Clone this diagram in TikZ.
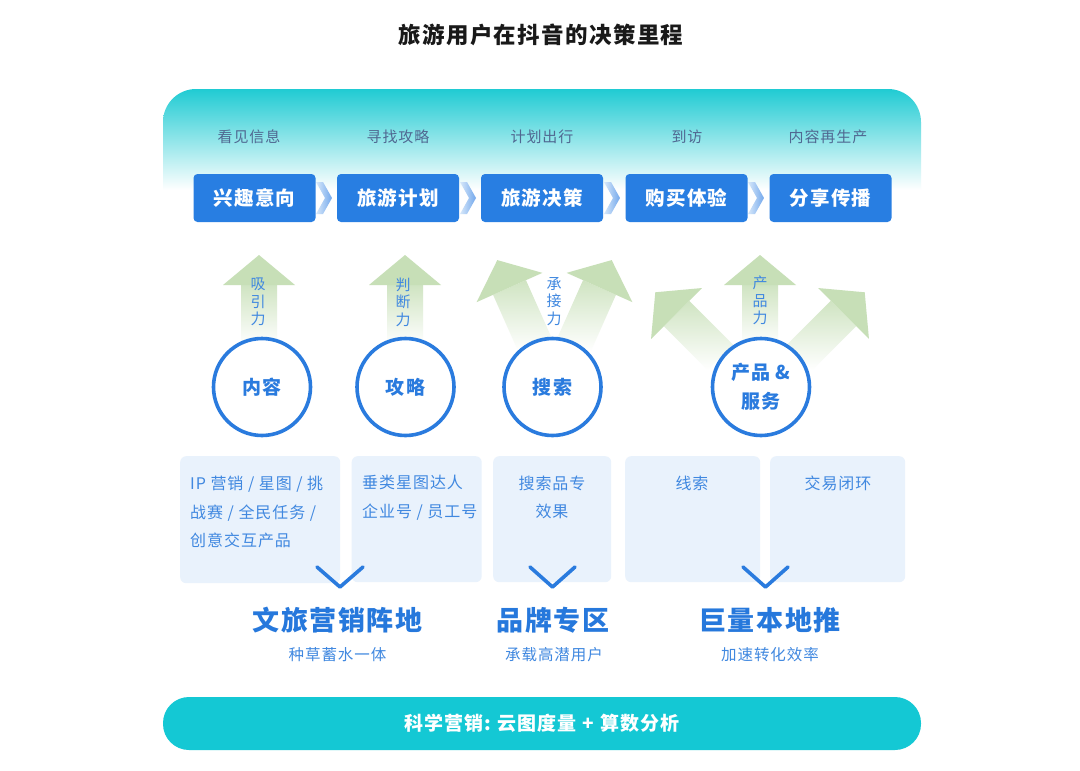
\documentclass[tikz,border=0pt]{standalone}
\usepackage{fontspec}
\setmainfont{Noto Sans CJK SC}[LetterSpace=6]
\definecolor{boxblue}{RGB}{40,126,226}
\definecolor{circblue}{RGB}{42,123,222}
\definecolor{stagegray}{RGB}{80,104,145}
\definecolor{lightbox}{RGB}{233,242,252}
\definecolor{txtblue}{RGB}{64,136,224}
\definecolor{labelblue}{RGB}{38,120,220}
\definecolor{arrgreen}{RGB}{199,223,183}
\definecolor{panelteal}{RGB}{32,203,211}
\definecolor{barteal}{RGB}{20,200,212}
\definecolor{chevdark}{RGB}{115,168,236}
\definecolor{chevlight}{RGB}{215,232,250}
\tikzset{
  stagebox/.style={fill=boxblue, rounded corners=4pt, minimum width=122pt, minimum height=48pt,
    text=white, font=\bfseries\fontsize{19.5}{22}\selectfont, inner sep=0pt},
  stagelabel/.style={text=stagegray, font=\fontsize{15}{18}\selectfont, inner sep=0pt},
  ring/.style={circle, draw=circblue, line width=3.6pt, fill=white, minimum size=97pt,
    text=circblue, font=\bfseries\fontsize{19}{29}\selectfont, align=center, inner sep=0pt},
  arrlabel/.style={text=txtblue, font=\fontsize{15}{17.5}\selectfont, align=center, inner sep=0pt},
  lbox/.style={fill=lightbox, rounded corners=6pt, anchor=north west, inner sep=0pt},
  boxtext/.style={text=txtblue, font=\fontsize{16}{28.5}\selectfont, inner sep=0pt},
  vmark/.style={draw=circblue, line width=3.6pt, line cap=round, line join=round},
  biglabel/.style={text=labelblue, font=\bfseries\fontsize{27}{30}\selectfont, inner sep=0pt},
  sublabel/.style={text=txtblue, font=\fontsize{15.5}{18}\selectfont, inner sep=0pt},
  chevron/.style={left color=chevlight, right color=chevdark},
  garrow/.pic={
    \shade[top color=arrgreen!85, bottom color=white] (-18,0) -- (18,0) -- (18,#1) -- (-18,#1) -- cycle;
    \fill[arrgreen] (-36,0) -- (0,-30) -- (36,0) -- cycle;
  }
}
\begin{document}
\begin{tikzpicture}[x=1pt,y=-1pt]
\useasboundingbox (0,0) rectangle (1080,771);
\fill[white] (0,0) rectangle (1080,771);

% title
\node[font=\bfseries\fontsize{22.5}{26}\selectfont, text=black!90, inner sep=0pt] (title) at (541,35) {旅游用户在抖音的决策里程};

% top panel gradient
\shade[top color=panelteal, bottom color=white]
  (163,190) -- (163,122) arc[start angle=180, end angle=270, radius=33]
  -- (888,89) arc[start angle=270, end angle=360, radius=33] -- (921,190) -- cycle;

% stage labels
\node[stagelabel] (s1) at (249,137) {看见信息};
\node[stagelabel] (s2) at (398,137) {寻找攻略};
\node[stagelabel] (s3) at (542,137) {计划出行};
\node[stagelabel] (s4) at (687,137) {到访};
\node[stagelabel] (s5) at (828,137) {内容再生产};

% chevrons between boxes
\foreach \xr in {315,459,603,747}{
  \shade[chevron] (\xr+1,182) -- (\xr+8,182) -- (\xr+17,198) -- (\xr+8,214) -- (\xr+1,214) -- (\xr+10,198) -- cycle;
}

% stage boxes
\node[stagebox] (b1) at (254.5,198) {兴趣意向};
\node[stagebox] (b2) at (398,198) {旅游计划};
\node[stagebox] (b3) at (542,198) {旅游决策};
\node[stagebox] (b4) at (686.5,198) {购买体验};
\node[stagebox] (b5) at (830.5,198) {分享传播};

% green arrows
\pic at (259,285) {garrow=60};
\pic at (405,285) {garrow=60};
\pic[rotate=24] at (509.5,287.5) {garrow=62};
\pic[rotate=-24] at (599.5,287.5) {garrow=62};
\pic at (760,285) {garrow=60};
\pic[rotate=45] at (676.5,313.5) {garrow=62};
\pic[rotate=-45] at (843.5,313.5) {garrow=62};

% arrow labels
\node[arrlabel] (a1) at (258,302) {吸\\引\\力};
\node[arrlabel] (a2) at (403,302) {判\\断\\力};
\node[arrlabel] (a3) at (554,301.5) {承\\接\\力};
\node[arrlabel] (a4) at (760,300.5) {产\\品\\力};

% circles
\node[ring] (c1) at (262,387) {内容};
\node[ring] (c2) at (405.5,387) {攻略};
\node[ring] (c3) at (552.5,387) {搜索};
\node[ring] (c4) at (761,387) {产品 \&\\服务};

% light boxes
\node[lbox, minimum width=160pt, minimum height=127pt] (p1) at (180,456) {};
\node[lbox, minimum width=130pt, minimum height=126pt] (p2) at (351.5,456) {};
\node[lbox, minimum width=118pt, minimum height=126pt] (p3) at (493,456) {};
\node[lbox, minimum width=135pt, minimum height=126pt] (p4) at (625,456) {};
\node[lbox, minimum width=135pt, minimum height=126pt] (p5) at (770,456) {};

\node[boxtext, anchor=west, align=left] (t1) at (190,512) {IP 营销 / 星图 / 挑\\战赛 / 全民任务 /\\创意交互产品};
\node[boxtext, anchor=west, align=left] (t2) at (362,497.5) {垂类星图达人\\企业号 / 员工号};
\node[boxtext, align=center] (t3) at (552,497.5) {搜索品专\\效果};
\node[boxtext] (t4) at (692,483) {线索};
\node[boxtext] (t5) at (838,483) {交易闭环};

% V marks
\draw[vmark] (317,567) -- (340,587) -- (363,567);
\draw[vmark] (530,567) -- (552.5,587) -- (575,567);
\draw[vmark] (743,567) -- (765.5,587) -- (788,567);

% big labels
\node[biglabel] (g1) at (337.5,620) {文旅营销阵地};
\node[biglabel] (g2) at (553,620) {品牌专区};
\node[biglabel] (g3) at (770,620) {巨量本地推};
\node[sublabel] (h1) at (337.5,655) {种草蓄水一体};
\node[sublabel] (h2) at (554,655) {承载高潜用户};
\node[sublabel] (h3) at (770,655) {加速转化效率};

% bottom bar
\node[fill=barteal, rounded corners=26pt, minimum width=758pt, minimum height=53pt, inner sep=0pt,
  text=white, font=\bfseries\fontsize{19}{22}\selectfont] (bar) at (542,723.5) {科学营销:\hspace{6pt}云图度量\hspace{6pt}+\hspace{6pt}算数分析};
\end{tikzpicture}
\end{document}
